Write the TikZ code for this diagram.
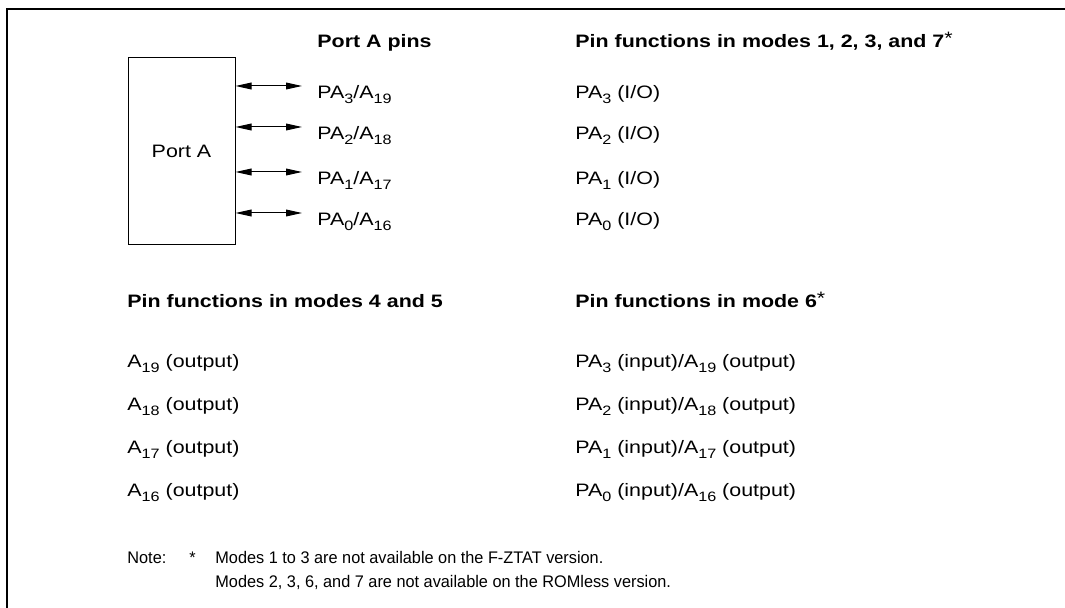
\documentclass[tikz,border=0pt]{standalone}
\usepackage{fontspec}
\setmainfont{Liberation Sans}[FakeStretch=1.19]
\newfontfamily\notefont{Liberation Sans}[FakeStretch=0.97]
\usetikzlibrary{arrows.meta}
\newcommand{\pinsub}[1]{\raisebox{-2.4pt}{\fontsize{6.8}{7}\selectfont #1}}
\newcommand{\modestar}{\raisebox{1.5pt}{\textmd{*}}}

\begin{document}
\begin{tikzpicture}[x=0.5pt, y=-0.5pt, >={Triangle[length=8pt, width=3.4pt]},
  txt/.style={anchor=base west, inner sep=0pt, font=\fontsize{9}{11}\selectfont},
  head/.style={txt, font=\fontsize{9}{11}\selectfont\bfseries},
  notetxt/.style={anchor=base west, inner sep=0pt, font=\notefont\fontsize{8.4}{10}\selectfont}]

  \useasboundingbox (0,0) rectangle (1065,608);

  % Page frame (top and left edge only)
  \draw[line width=1pt] (7,608) -- (7,9) -- (1065,9);

  % ==================== PORT A BLOCK ====================
  \node[draw, line width=0.5pt, minimum width=53.5pt, minimum height=93.5pt,
        inner sep=0pt, font=\fontsize{9}{11}\selectfont] (porta) at (181.5,151.5) {Port A};

  \node[head] (pinshead) at (317,48) {Port A pins};
  \node[head] (modeAhead) at (575,48) {Pin functions in modes 1, 2, 3, and 7\modestar};

  % Pins, arrows and functions in modes 1, 2, 3, 7
  \foreach \n/\ya/\hi in {3/86/19, 2/127/18, 1/172/17, 0/213/16} {
    \coordinate (tip\n) at (302,\ya);
    \draw[<->, line width=0.5pt] (porta.east |- tip\n) -- (tip\n);
    \node[txt] (pin\n) at (317,\ya+13) {PA\pinsub{\n}/A\pinsub{\hi}};
    \node[txt] (io\n) at (575,\ya+13) {PA\pinsub{\n} (I/O)};
  }

  % ==================== MODES 4, 5 AND 6 ====================
  \node[head] (modeBhead) at (127,308) {Pin functions in modes 4 and 5};
  \node[head] (modeChead) at (575,308) {Pin functions in mode 6\modestar};

  \foreach \n/\hi/\y in {3/19/368, 2/18/411, 1/17/454, 0/16/497} {
    \node[txt] (out\n) at (127,\y) {A\pinsub{\hi} (output)};
    \node[txt] (mix\n) at (575,\y) {PA\pinsub{\n} (input)/A\pinsub{\hi} (output)};
  }

  % Note
  \node[notetxt] (note) at (127,564) {Note:};
  \node[notetxt] (star) at (189,564) {*};
  \node[notetxt] (note1) at (215,564) {Modes 1 to 3 are not available on the F-ZTAT version.};
  \node[notetxt] (note2) at (215,588) {Modes 2, 3, 6, and 7 are not available on the ROMless version.};

\end{tikzpicture}
\end{document}
